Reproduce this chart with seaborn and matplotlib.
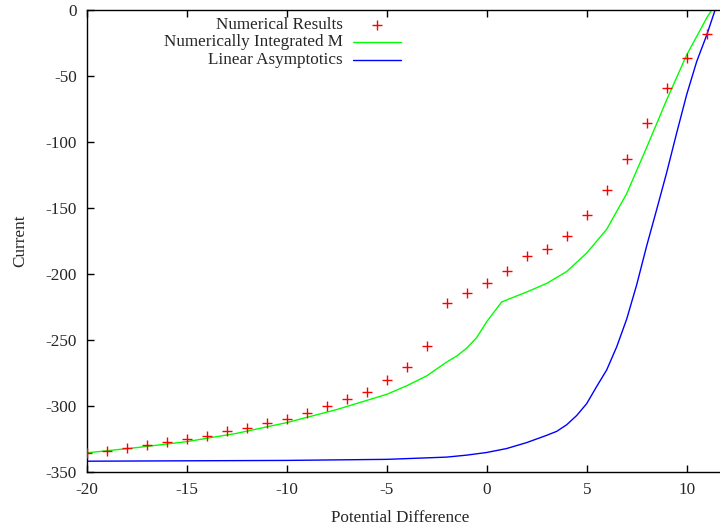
import numpy as np
import pandas as pd
import matplotlib
matplotlib.use("Agg")
import matplotlib.pyplot as plt
import seaborn as sns

# ---- data ----
num_x = [-20, -19, -18, -17, -16, -15, -14, -13, -12, -11, -10, -9, -8, -7, -6,
         -5, -4, -3, -2, -1, 0, 1, 2, 3, 4, 5, 6, 7, 8, 9, 10, 11]
num_y = [-335.6, -333.6, -331.3, -329.3, -327.3, -325.0, -322.5, -318.7, -316.2,
         -312.9, -309.4, -305.3, -299.8, -294.5, -288.9, -280.3, -270.0, -254.4,
         -221.6, -214.0, -206.9, -197.6, -186.1, -181.2, -170.8, -155.2, -136.5,
         -112.8, -85.8, -59.2, -36.0, -18.2]

int_x = [-20, -17.5, -15, -12.5, -10, -7.5, -5, -4, -3, -2, -1.5, -1, -0.5, 0,
         0.75, 1, 2, 3, 4, 5, 6, 7, 8, 9, 10, 11, 11.25]
int_y = [-335.3, -331.3, -326.8, -320.5, -312.4, -302.5, -291.0, -284.5, -277.0,
         -266.5, -262.0, -256.0, -248.0, -236.0, -221.0, -219.5, -213.5, -207.0,
         -198.0, -184.0, -166.0, -139.0, -104.0, -68.0, -34.0, -6.0, 0.0]

lin_x = [-20, -10, -5, -2, -1, 0, 1, 2, 3, 3.5, 4, 4.5, 5, 5.5, 6, 6.5, 7, 7.5,
         8, 8.5, 9, 9.5, 10, 10.5, 11, 11.42]
lin_y = [-341.6, -341.0, -340.2, -338.5, -337.0, -335.0, -332.0, -327.5, -322.0,
         -319.0, -314.0, -307.0, -298.0, -285.0, -272.5, -255.0, -234.0, -208.0,
         -178.5, -151.0, -123.0, -93.0, -64.0, -39.0, -19.0, 0.0]

labels = ["Numerical Results", "Numerically Integrated M", "Linear Asymptotics"]
xticks = [-20, -15, -10, -5, 0, 5, 10]
yticks = [-350, -300, -250, -200, -150, -100, -50, 0]

sns.set_style("ticks")
plt.rcParams['font.family'] = ['Liberation Serif', 'DejaVu Serif']
FS = 12.3

fig = plt.figure(figsize=(7.2, 5.27), dpi=100)
ax = fig.add_axes([86.7 / 720, (527 - 472.3) / 527, 640 / 720, 462.3 / 527])

df_num = pd.DataFrame({"x": num_x, "y": num_y})
df_int = pd.DataFrame({"x": int_x, "y": int_y})
df_lin = pd.DataFrame({"x": lin_x, "y": lin_y})

sns.lineplot(data=df_int, x="x", y="y", ax=ax, color="#00ff00", lw=1.0,
             sort=False, estimator=None)
sns.lineplot(data=df_lin, x="x", y="y", ax=ax, color="#0000ff", lw=1.0,
             sort=False, estimator=None)
sns.scatterplot(data=df_num, x="x", y="y", ax=ax, marker="+", color="#ff0000",
                s=45, linewidth=1.0, zorder=5)

ax.set_xlim(-20, 12)
ax.set_ylim(-350, 0)
ax.set_xticks(xticks)
ax.set_yticks(yticks)
ax.set_xticklabels([str(t) for t in xticks], fontsize=FS)
ax.set_yticklabels([str(t) for t in yticks], fontsize=FS)
ax.tick_params(direction="in", length=5, width=1.0, top=True, right=True,
               color="black", pad=7)
for s in ax.spines.values():
    s.set_visible(True)
    s.set_linewidth(1.0)
    s.set_color("black")

ax.set_xlabel("Potential Difference", fontsize=FS)
ax.set_ylabel("Current", fontsize=FS)
ax.xaxis.set_label_coords((400 - 86.7) / 640, -0.0815)
ax.yaxis.set_label_coords((28 - 86.7) / 640, 0.5)

# manual legend (gnuplot style: right-aligned text, sample to the right)
rows_y = [0.9676, 0.930, 0.892]
tx = 0.400
for i, lab in enumerate(labels):
    ax.text(tx, rows_y[i], lab, transform=ax.transAxes, ha="right", va="center",
            fontsize=FS)
ax.plot([0.4536], [rows_y[0]], transform=ax.transAxes, marker="+", color="#ff0000",
        ms=6.5, mew=1.0, ls="none")
ax.plot([0.416, 0.4906], [rows_y[1]] * 2, transform=ax.transAxes, color="#00ff00", lw=1.0)
ax.plot([0.416, 0.4906], [rows_y[2]] * 2, transform=ax.transAxes, color="#0000ff", lw=1.0)

fig.savefig("out.png", dpi=100)
